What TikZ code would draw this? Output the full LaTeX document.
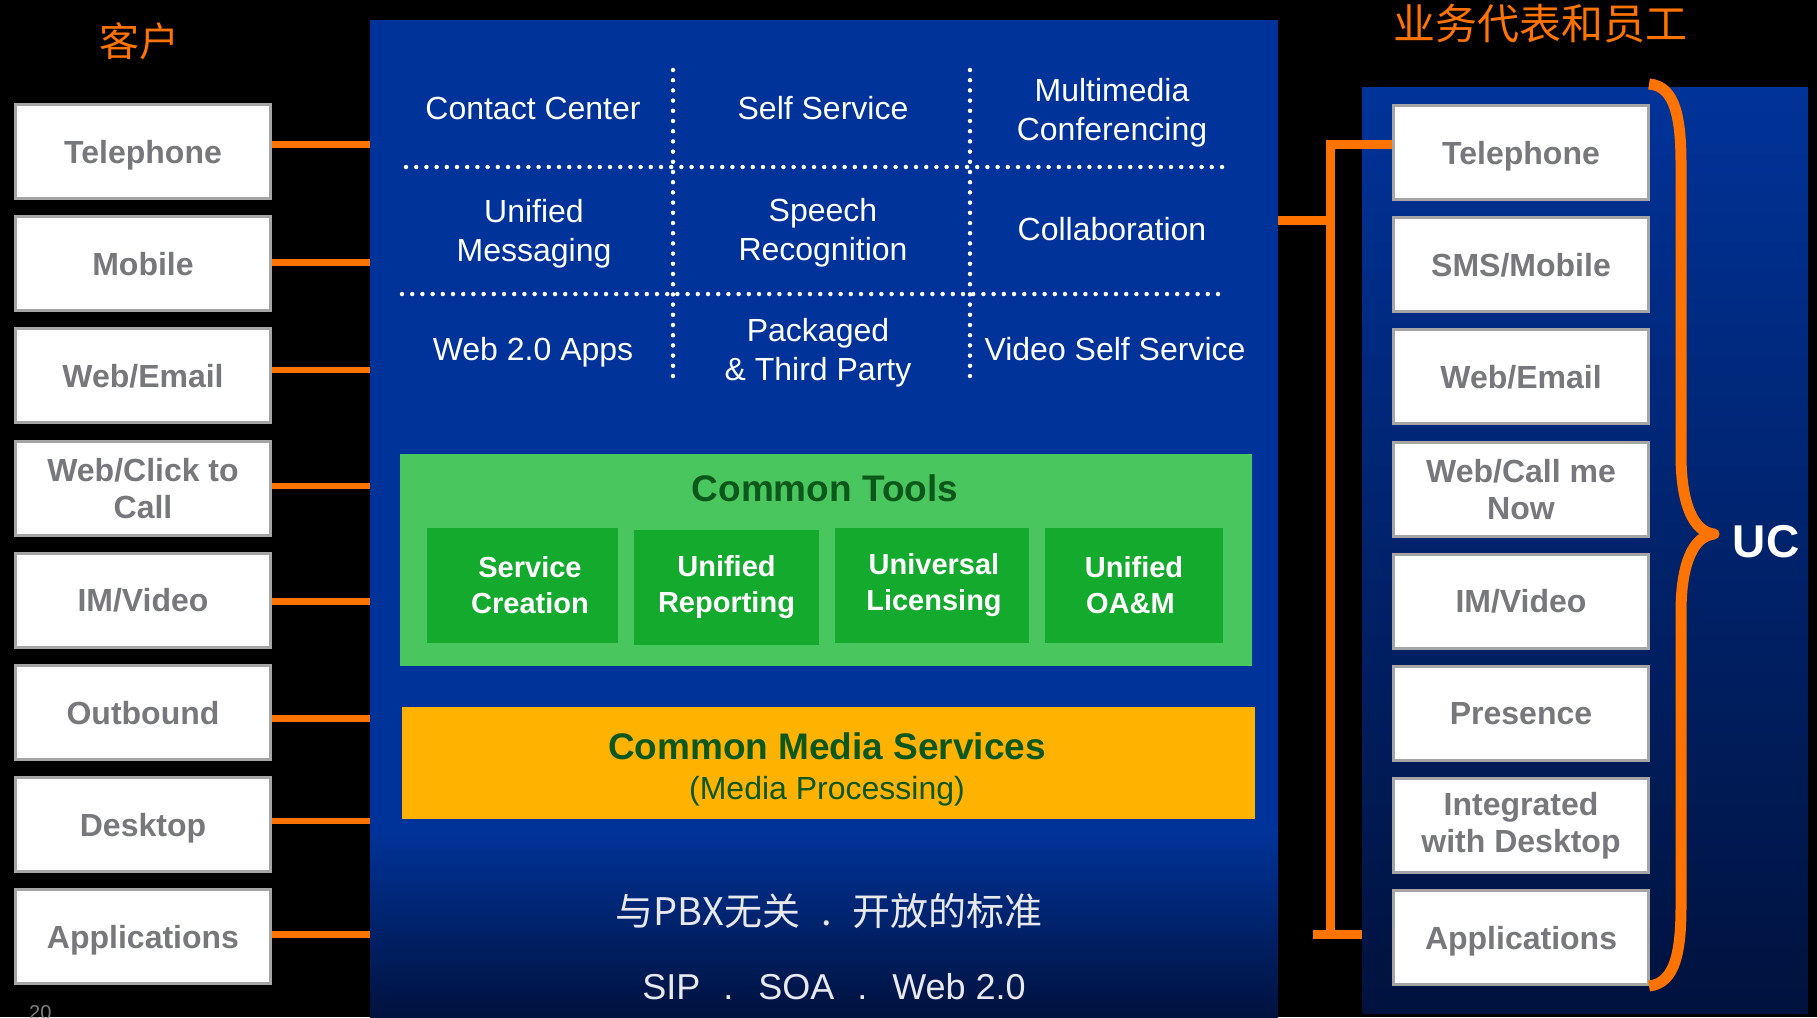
\documentclass[tikz,border=0pt]{standalone}
\usepackage{fontspec}
\setmainfont{Liberation Sans}
\newfontfamily\cjk{Noto Sans CJK SC}
\definecolor{pblue}{RGB}{0,51,153}
\definecolor{pdark}{RGB}{0,18,62}
\definecolor{org}{RGB}{255,115,0}
\definecolor{lgreen}{RGB}{74,198,95}
\definecolor{dgreen}{RGB}{20,170,46}
\definecolor{tgreen}{RGB}{12,88,26}
\definecolor{gold}{RGB}{255,178,0}
\definecolor{tgray}{RGB}{119,120,123}
\definecolor{bgray}{RGB}{165,165,165}
\definecolor{ltext}{RGB}{232,232,238}
\begin{document}
\begin{tikzpicture}[x=1pt,y=-1pt,
  sidebox/.style={draw=bgray, line width=3pt, fill=white, minimum width=255pt, minimum height=94pt,
    inner sep=0pt, align=center, text=tgray, font=\fontsize{32}{37}\selectfont\bfseries},
  oneline/.style={text depth=0pt},
  gtext/.style={text=white, inner sep=0pt, align=center, font=\fontsize{32}{39}\selectfont},
  dotline/.style={draw=white, line width=4.5pt, line cap=round, dash pattern=on 0pt off 10.2pt},
  lconn/.style={draw=org, line width=6.5pt},
  rconn/.style={draw=org, line width=9pt},
  toolbox/.style={fill=dgreen, minimum height=115pt, inner sep=0pt, text=white, align=center,
    font=\fontsize{29}{36}\selectfont\bfseries},
  title/.style={text=org, inner sep=0pt}]
\useasboundingbox (0,0) rectangle (1817,1017);
\fill[black] (0,0) rectangle (1817,1017);

% central panel
\node[fill=pblue, minimum width=908pt, minimum height=997pt, inner sep=0pt] (C) at (824,518.5) {};
\shade[top color=pblue, bottom color=pdark] (370,830) rectangle (1278,1017);

% right panel
\node[minimum width=446pt, minimum height=926pt, inner sep=0pt,
  top color=pblue, middle color=pblue!88!black, bottom color=pdark] (RP) at (1585,550) {};

% titles
\node[title, font=\cjk\fontsize{40}{44}\selectfont] (t1) at (139,41) {客户};
\node[title, font=\cjk\fontsize{42}{46}\selectfont] (t2) at (1540,24) {业务代表和员工};

% left boxes
\node[sidebox, oneline] (L1) at (143,151.5) {Telephone};
\node[sidebox, oneline] (L2) at (143,263.7) {Mobile};
\node[sidebox, oneline] (L3) at (143,375.9) {Web/Email};
\node[sidebox] (L4) at (143,488.1) {Web/Click to\\Call};
\node[sidebox, oneline] (L5) at (143,600.3) {IM/Video};
\node[sidebox, oneline] (L6) at (143,712.5) {Outbound};
\node[sidebox, oneline] (L7) at (143,824.7) {Desktop};
\node[sidebox, oneline] (L8) at (143,936.9) {Applications};
\foreach \i/\s in {1/7,2/1.2,3/5.8,4/2.3,5/-1.2,6/-5.8,7/3.5,8/2.3} {
  \draw[lconn] ([yshift=\s pt]L\i.east) -- ([yshift=\s pt]L\i.east -| C.west); }

% right boxes
\node[sidebox, oneline] (R1) at (1521,152.5) {Telephone};
\node[sidebox, oneline] (R2) at (1521,264.7) {SMS/Mobile};
\node[sidebox, oneline] (R3) at (1521,376.9) {Web/Email};
\node[sidebox] (R4) at (1521,489.1) {Web/Call me\\Now};
\node[sidebox, oneline] (R5) at (1521,601.3) {IM/Video};
\node[sidebox, oneline] (R6) at (1521,713.5) {Presence};
\node[sidebox] (R7) at (1521,825.7) {Integrated\\with Desktop};
\node[sidebox, oneline] (R8) at (1521,937.9) {Applications};

% right connector
\coordinate (J) at (1330,220);
\coordinate (Jt) at (1330,144);
\coordinate (Jb) at (1330,934);
\coordinate (Jf) at (1313,934);
\draw[rconn] (C.east |- J) -- (J);
\draw[rconn] (R1.west |- Jt) -- (Jt) -- (Jb);
\draw[rconn] (Jf) -- (RP.west |- Jf);

% brace and UC
\draw[draw=org, line width=11pt, line join=round]
  (1649,84) .. controls (1676,86) and (1681,120) .. (1681,165) -- (1681,455)
  .. controls (1681,505) and (1694,532) .. (1714,534)
  .. controls (1694,536) and (1681,562) .. (1681,612) -- (1681,905)
  .. controls (1681,950) and (1676,983) .. (1649,986);
\node[text=white, inner sep=0pt, font=\fontsize{46}{50}\selectfont\bfseries] (uc) at (1766,542) {UC};

% grid
\draw[dotline] (406,167) -- (1228,167);
\draw[dotline] (402,294) -- (1225,294);
\draw[dotline] (673,70) -- (673,386);
\draw[dotline] (970,70) -- (970,386);
\node[gtext] (g11) at (533,108) {Contact Center};
\node[gtext] (g12) at (823,108) {Self Service};
\node[gtext] (g13) at (1112,112.5) {Multimedia\\Conferencing};
\node[gtext] (g21) at (534,233.5) {Unified\\Messaging};
\node[gtext] (g22) at (823,232.5) {Speech\\Recognition};
\node[gtext] (g23) at (1112,229) {Collaboration};
\node[gtext] (g31) at (533,352) {Web 2.0 Apps};
\node[gtext] (g32) at (818,353) {Packaged\\\&~Third Party};
\node[gtext] (g33) at (1115,349) {Video Self Service};

% common tools
\node[fill=lgreen, minimum width=852pt, minimum height=212pt, inner sep=0pt] (CT) at (826,560) {};
\node[text=tgreen, inner sep=0pt, font=\fontsize{37}{40}\selectfont\bfseries] (ctt) at (825,488) {Common Tools};
\node[toolbox, minimum width=191pt] (S1) at (522.5,585.5) {\hspace*{15pt}Service\\\hspace*{15pt}Creation};
\node[toolbox, minimum width=185pt] (S2) at (726.5,587) {Unified\\Reporting};
\node[toolbox, minimum width=194pt] (S3) at (932,585.5) {\hspace*{4pt}Universal\\\hspace*{4pt}Licensing};
\node[toolbox, minimum width=178pt] (S4) at (1134,585.5) {Unified\\OA\&M\hspace*{7pt}};

% common media services
\node[fill=gold, minimum width=853pt, minimum height=112pt, inner sep=0pt] (CM) at (828.5,763) {};
\node[text=tgreen, inner sep=0pt, anchor=base, font=\fontsize{37}{40}\selectfont\bfseries] (cmt) at (827,759) {Common Media Services};
\node[text=tgreen, inner sep=0pt, anchor=base, font=\fontsize{32}{36}\selectfont] (cms) at (827,799) {(Media Processing)};

% bottom texts
\node[text=ltext, inner sep=0pt, font=\cjk\fontsize{38}{40}\selectfont] (b1) at (829,911) {与PBX无关\hspace{21pt}.\hspace{21pt}开放的标准};
\node[text=ltext, inner sep=0pt, anchor=base, font=\fontsize{36}{40}\selectfont] (b2) at (834,999) {SIP\hspace{23pt}.\hspace{25pt}SOA\hspace{23pt}.\hspace{25pt}Web 2.0};

% page number
\node[text=gray, inner sep=0pt, anchor=north west, font=\fontsize{20}{22}\selectfont] (pg) at (29,1005) {20};
\end{tikzpicture}
\end{document}
